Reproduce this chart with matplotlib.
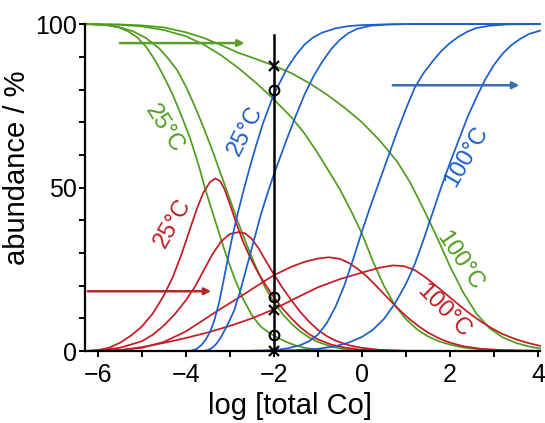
import numpy as np
import matplotlib
matplotlib.use("Agg")
import matplotlib.pyplot as plt
from matplotlib.ticker import MultipleLocator, FixedLocator

plt.rcParams['font.family'] = ['Liberation Sans', 'DejaVu Sans']

# species curves, 25 C -> 100 C (index 1..4)
g1_x = [-6.29, -6.0, -5.75, -5.5, -5.3, -5.1, -4.9, -4.7, -4.5, -4.3, -4.1, -3.9, -3.7, -3.6, -3.5, -3.3, -3.1, -2.9, -2.7, -2.5, -2.3, -2.1, -1.9, -1.7, -1.5, -1.3, -1.0, -0.6, 0, 4.05]
g1_y = [100, 99.9, 99.6, 98.9, 97.7, 95.9, 93, 89, 84, 78.5, 72, 65, 56.5, 51.5, 47, 38.5, 30, 22.5, 16, 11, 7.5, 5.5, 4, 2.7, 1.7, 1.0, 0.4, 0.1, 0, 0]
g2_x = [-6.29, -5.8, -5.5, -5.2, -4.9, -4.6, -4.4, -4.2, -4.0, -3.8, -3.6, -3.4, -3.2, -3.0, -2.8, -2.6, -2.4, -2.2, -2.0, -1.8, -1.6, -1.4, -1.2, -1.0, -0.7, -0.4, 0, 0.5, 4.05]
g2_y = [100, 99.7, 99, 97.8, 95.7, 92.5, 89.5, 86, 81, 75, 68.5, 61.5, 54, 46.5, 39, 32, 25.5, 19.5, 15, 11.3, 8.4, 6, 4.2, 2.8, 1.4, 0.6, 0.2, 0, 0]
g3_x = [-6.29, -5.5, -5.0, -4.5, -4.0, -3.6, -3.2, -2.8, -2.4, -2.0, -1.6, -1.3, -1.0, -0.75, -0.5, -0.25, 0, 0.25, 0.5, 0.75, 1.0, 1.25, 1.5, 1.75, 2.0, 2.3, 2.7, 3.2, 4.05]
g3_y = [100, 99.8, 99.3, 98.2, 96.3, 93.8, 90.5, 86.5, 82, 77, 71.5, 66.5, 60.5, 55, 49.5, 43, 36, 27.5, 20, 14, 9.8, 6.7, 4.5, 3.0, 2.0, 1.1, 0.5, 0.2, 0]
g4_x = [-6.29, -5.5, -5.0, -4.5, -4.0, -3.6, -3.2, -2.8, -2.4, -2.0, -1.6, -1.2, -0.8, -0.4, 0, 0.4, 0.8, 1.1, 1.4, 1.7, 2.0, 2.3, 2.6, 2.9, 3.2, 3.5, 3.8, 4.05]
g4_y = [100, 99.9, 99.6, 99, 97.5, 95.8, 93.6, 91.2, 89.3, 87.3, 85, 82, 78.5, 74.5, 70, 64.5, 58, 51.5, 43.5, 35, 26, 18, 11.5, 7, 4.2, 2.5, 1.4, 0.8]

b1_x = [-6.29, -4.0, -3.85, -3.75, -3.65, -3.55, -3.45, -3.35, -3.25, -3.15, -3.05, -2.95, -2.85, -2.7, -2.55, -2.4, -2.25, -2.1, -2.0, -1.85, -1.7, -1.5, -1.3, -1.1, -0.9, -0.6, -0.3, 0, 0.5, 1, 4.05]
b1_y = [0, 0, 0.2, 0.7, 1.8, 3.5, 5.8, 9.5, 14.5, 21, 28, 34.5, 40.5, 48.5, 56, 63, 69.5, 75, 78.5, 82.5, 86.5, 90.5, 93.8, 96, 97.4, 98.7, 99.4, 99.7, 99.9, 100, 100]
b2_x = [-6.29, -3.6, -3.5, -3.4, -3.3, -3.2, -3.1, -3.0, -2.9, -2.75, -2.6, -2.45, -2.3, -2.15, -2.0, -1.85, -1.7, -1.5, -1.3, -1.1, -0.9, -0.7, -0.5, -0.3, -0.1, 0.2, 0.6, 1, 4.05]
b2_y = [0, 0, 0.3, 1.0, 2.3, 4.3, 6.8, 9.5, 12.5, 19, 26.5, 34, 41.5, 48, 54, 59.5, 65, 72, 78.5, 84, 88.5, 92.3, 95.2, 97.3, 98.6, 99.5, 99.9, 100, 100]
b3_x = [-6.29, -3.0, -2.5, -2.0, -1.7, -1.4, -1.2, -1.0, -0.8, -0.6, -0.4, -0.2, 0, 0.2, 0.4, 0.6, 0.8, 1.0, 1.2, 1.4, 1.6, 1.8, 2.0, 2.2, 2.4, 2.6, 2.9, 3.3, 4.05]
b3_y = [0, 0, 0.1, 0.3, 0.8, 1.8, 3.0, 5, 8.5, 13.5, 20, 28, 36.5, 44.5, 52, 59.5, 67, 74, 80.5, 85, 88.5, 91.7, 94.2, 96.2, 97.7, 98.8, 99.5, 99.9, 100]
b4_x = [-6.29, -2.5, -2.0, -1.5, -1.0, -0.6, -0.3, 0, 0.25, 0.5, 0.75, 1.0, 1.2, 1.4, 1.6, 1.8, 2.0, 2.2, 2.4, 2.6, 2.8, 3.0, 3.2, 3.4, 3.6, 3.8, 4.05]
b4_y = [0, 0, 0.1, 0.3, 0.7, 1.5, 2.6, 4.3, 6.5, 9.8, 14.5, 20.5, 26.5, 34, 42, 50, 57.5, 64.5, 71.5, 77.5, 83, 87.5, 91, 93.6, 95.5, 97, 98]

r1_x = [-6.29, -6.0, -5.75, -5.5, -5.25, -5.0, -4.75, -4.5, -4.3, -4.1, -3.9, -3.75, -3.6, -3.45, -3.33, -3.22, -3.12, -3.0, -2.85, -2.7, -2.55, -2.4, -2.2, -2.0, -1.8, -1.6, -1.4, -1.2, -1.0, -0.7, -0.4, 0, 0.5, 1, 4.05]
r1_y = [0, 0.3, 1.0, 2.5, 4.7, 7.5, 11.5, 17, 22.5, 29.5, 37.5, 43.5, 48.5, 51.7, 52.8, 52, 49.5, 45, 39, 33.5, 29, 25, 20.5, 16.5, 13, 10, 7.3, 5.2, 3.6, 2, 1.1, 0.4, 0.1, 0, 0]
r2_x = [-6.29, -6.0, -5.5, -5.0, -4.75, -4.5, -4.25, -4.0, -3.8, -3.6, -3.4, -3.2, -3.0, -2.8, -2.65, -2.5, -2.35, -2.2, -2.0, -1.8, -1.6, -1.4, -1.2, -1.0, -0.8, -0.6, -0.3, 0, 0.4, 1, 4.05]
r2_y = [0, 0.2, 1, 3, 5, 7.8, 11.3, 15.5, 19.5, 24.5, 29.5, 33.5, 35.8, 36.4, 36, 34.3, 31.5, 28, 23.5, 19.3, 15.5, 12, 9, 6.5, 4.6, 3.2, 1.8, 1.0, 0.4, 0.1, 0]
r3_x = [-6.29, -5.5, -5.0, -4.5, -4.0, -3.6, -3.2, -2.8, -2.4, -2.0, -1.6, -1.3, -1.0, -0.75, -0.5, -0.3, -0.1, 0.1, 0.3, 0.5, 0.7, 0.9, 1.1, 1.3, 1.5, 1.75, 2.0, 2.3, 2.7, 3.2, 4.05]
r3_y = [0, 0.3, 1, 2.8, 6, 9.5, 13, 16.3, 19.8, 23.2, 25.8, 27.3, 28.3, 28.7, 28.2, 27, 25.2, 23, 20.3, 17.5, 14.7, 12, 9.6, 7.5, 5.7, 3.9, 2.6, 1.5, 0.7, 0.3, 0.1]
r4_x = [-6.29, -5.5, -5.0, -4.5, -4.0, -3.5, -3.0, -2.5, -2.0, -1.5, -1.0, -0.5, 0, 0.4, 0.7, 0.95, 1.2, 1.45, 1.7, 1.95, 2.2, 2.45, 2.7, 2.95, 3.2, 3.5, 3.8, 4.05]
r4_y = [0, 0.3, 1.2, 2.5, 4.0, 5.7, 7.7, 10, 12.8, 16.2, 19.5, 22, 24, 25.5, 26.2, 26, 24.8, 22.5, 19.8, 17, 14.2, 11.5, 9.1, 7, 5.2, 3.6, 2.4, 1.6]

# values marked on the log c = -2 line
cross_y = [87.3, 12.5, 0]
circle_y = [80, 16.5, 4.9]

green = '#4f9d1c'
blue = '#1c5ec9'
red = '#c41a22'

fig = plt.figure(figsize=(5.45, 4.23), dpi=100)
ax = fig.add_axes([0.156, 0.170, 0.835, 0.773])

for xs, ys in [(g1_x, g1_y), (g2_x, g2_y), (g3_x, g3_y), (g4_x, g4_y)]:
    ax.plot(xs, ys, color=green, lw=1.25, clip_on=False)
for xs, ys in [(r1_x, r1_y), (r2_x, r2_y), (r3_x, r3_y), (r4_x, r4_y)]:
    ax.plot(xs, ys, color=red, lw=1.25, clip_on=False)
for xs, ys in [(b1_x, b1_y), (b2_x, b2_y), (b3_x, b3_y), (b4_x, b4_y)]:
    ax.plot(xs, ys, color=blue, lw=1.25, clip_on=False)

ax.plot([-2, -2], [0, 96.6], color='black', lw=1.8)
ax.plot([-2] * 3, cross_y, 'x', color='black', ms=7, mew=1.6, clip_on=False)
ax.plot([-2] * 3, circle_y, 'o', mfc='none', mec='black', ms=7, mew=1.5, clip_on=False)

# arrows showing direction of rising temperature
ax.annotate('', xy=(-2.6, 94.2), xytext=(-5.56, 94.2),
            arrowprops=dict(arrowstyle='-|>', color='#5c9e2e', lw=1.8, mutation_scale=10))
ax.annotate('', xy=(3.64, 81.3), xytext=(0.64, 81.3),
            arrowprops=dict(arrowstyle='-|>', color='#3a6ea8', lw=1.8, mutation_scale=10))
ax.annotate('', xy=(-3.36, 18.3), xytext=(-6.29, 18.3),
            arrowprops=dict(arrowstyle='-|>', color='#b3272b', lw=1.8, mutation_scale=10))

ax.text(-4.5, 68, '25°C', color=green, fontsize=17, rotation=-57, ha='center', va='center')
ax.text(-2.65, 67.5, '25°C', color=blue, fontsize=17, rotation=63, ha='center', va='center')
ax.text(-4.3, 39, '25°C', color=red, fontsize=17, rotation=60, ha='center', va='center')
ax.text(2.38, 59.5, '100°C', color=blue, fontsize=17, rotation=60, ha='center', va='center')
ax.text(2.23, 27.5, '100°C', color=green, fontsize=17, rotation=-56, ha='center', va='center')
ax.text(1.85, 12.3, '100°C', color=red, fontsize=17, rotation=-45, ha='center', va='center')

ax.set_xlim(-6.29, 4.05)
ax.set_ylim(0, 100)
ax.spines['top'].set_visible(False)
ax.spines['right'].set_visible(False)
for s in ['left', 'bottom']:
    ax.spines[s].set_linewidth(1.6)

ax.xaxis.set_major_locator(FixedLocator([-6, -4, -2, 0, 2, 4]))
ax.xaxis.set_minor_locator(MultipleLocator(1))
ax.yaxis.set_major_locator(FixedLocator([0, 50, 100]))
ax.yaxis.set_minor_locator(MultipleLocator(10))
ax.tick_params(which='both', direction='out', length=4.5, width=1.4)
ax.tick_params(axis='x', labelsize=18, pad=4)
ax.tick_params(axis='y', labelsize=18, pad=1)

ax.set_xlabel('log [total Co]', fontsize=21, labelpad=4, x=0.45)
ax.set_ylabel('abundance / %', fontsize=21, labelpad=3, y=0.56)

fig.savefig('out.png', dpi=100)
